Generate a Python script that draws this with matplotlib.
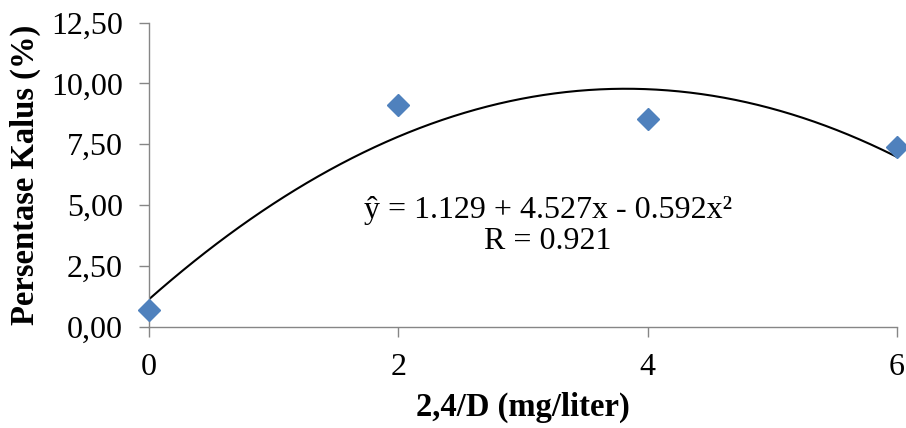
import matplotlib
matplotlib.use('Agg')
import matplotlib.pyplot as plt
import numpy as np
from matplotlib.ticker import FuncFormatter

# data
dosis = [0, 2, 4, 6]                    # 2,4/D (mg/liter)
kalus = [0.70, 9.10, 8.52, 7.39]        # Persentase Kalus (%)
koef = [1.129, 4.527, -0.592]           # trendline: a + b*x + c*x^2
r_value = 0.921
x_ticks = [0, 2, 4, 6]
y_ticks = [0, 2.5, 5, 7.5, 10, 12.5]

plt.rcParams['font.family'] = ['Liberation Serif', 'DejaVu Serif']

fig = plt.figure(figsize=(9.06, 4.28), dpi=100)
ax = fig.add_axes([0.1645, 0.2367, 0.8255, 0.7103])

# garis tren polinomial orde 2
xs = np.linspace(dosis[0], dosis[-1], 200)
ys = koef[0] + koef[1] * xs + koef[2] * xs ** 2
ax.plot(xs, ys, color='black', linewidth=1.5, zorder=2)

ax.plot(dosis, kalus, linestyle='none', marker='D', markersize=11,
        color='#4F81BD', markeredgecolor='#4F81BD', clip_on=False, zorder=3)

eq = (f"ŷ = {koef[0]:.3f} + {koef[1]:.3f}x - {abs(koef[2]):.3f}x²\n"
      f"R = {r_value:.3f}")
ax.text(3.2, 4.15, eq, ha='center', va='center', fontsize=23,
        linespacing=1.1)

ax.set_xlim(0, 6)
ax.set_ylim(0, 12.5)
ax.set_xticks(x_ticks)
ax.set_yticks(y_ticks)
ax.yaxis.set_major_formatter(FuncFormatter(lambda v, p: f"{v:.2f}".replace('.', ',')))

for s in ['top', 'right']:
    ax.spines[s].set_visible(False)
for s in ['left', 'bottom']:
    ax.spines[s].set_color('#868686')
    ax.spines[s].set_linewidth(1.0)
ax.tick_params(axis='both', direction='out', length=7, width=1.0,
               color='#868686', labelsize=23, pad=12)

ax.set_xlabel('2,4/D (mg/liter)', fontsize=23.5, fontweight='bold', va='center')
ax.xaxis.set_label_coords(0.5, -0.267)
ax.set_ylabel('Persentase Kalus (%)', fontsize=23.5, fontweight='bold', va='center')
ax.yaxis.set_label_coords(-0.166, 0.5)

fig.savefig('out.png', dpi=100, facecolor='white')
plt.close(fig)
